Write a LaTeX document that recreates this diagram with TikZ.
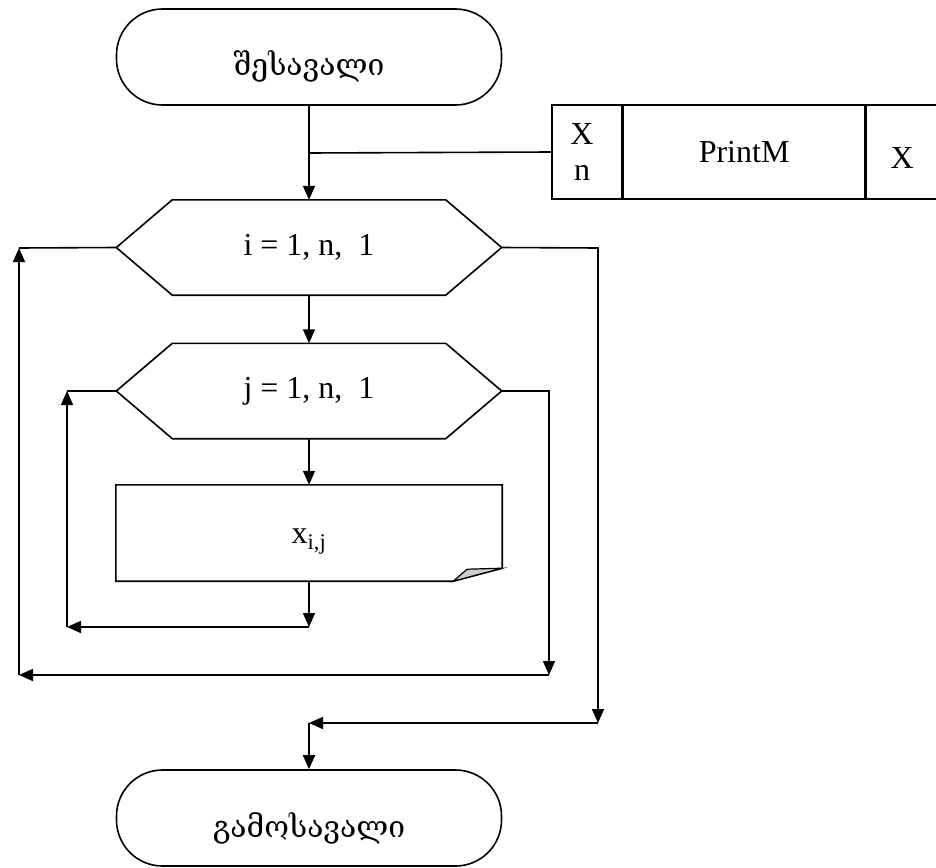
\documentclass[tikz,border=0pt]{standalone}
\usepackage{fontspec}
\setmainfont{Liberation Serif}
\newfontfamily\geofont[Script=Georgian]{DejaVu Serif}
\usetikzlibrary{calc,arrows.meta}

\tikzset{
  flow/.style={line width=1.6pt, line join=miter},
  arr/.style={flow, -{Triangle[length=14pt,width=12pt]}},
  txt/.style={font=\fontsize{32}{36}\selectfont},
  terminal/.style={draw, flow, rounded corners=46pt, minimum width=385pt,
    minimum height=96pt, inner sep=0pt, text depth=0pt,
    font=\fontsize{30}{34}\selectfont\geofont},
  blank/.style={inner sep=0pt, minimum width=385pt, minimum height=95pt},
  cell/.style={draw, flow, inner sep=0pt, minimum height=94pt},
}

\begin{document}
\begin{tikzpicture}[x=1pt, y=-1pt]
\path[use as bounding box] (0,0) rectangle (936,867);

% terminals
\node[terminal, text height=36pt] (start) at (309,57) {შესავალი};
\node[terminal, text height=38pt] (stop) at (309,818) {გამოსავალი};

% loop headers (hexagons)
\node[blank, txt] (hexi) at (309,247.5) {i = 1, n,\ \ 1};
\node[blank, txt] (hexj) at (309,391) {j = 1, n,\ \ 1};
\foreach \h in {hexi, hexj}{
  \draw[flow] (\h.west) -- ($(\h.north west)+(56,0)$) -- ($(\h.north east)+(-56,0)$)
    -- (\h.east) -- ($(\h.south east)+(-56,0)$) -- ($(\h.south west)+(56,0)$) -- cycle;
}

% output document
\node[inner sep=0pt, minimum width=386pt, minimum height=96pt, txt,
  text height=20pt, text depth=0pt] (doc) at (309,533) {x\textsubscript{i,j}};
\draw[flow] (doc.south west) -- (doc.north west) -- (doc.north east)
  -- ($(doc.south east)+(0,-13)$) -- ($(doc.south east)+(-49,0)$) -- cycle;
\filldraw[flow, fill=black!20, line width=1.2pt]
  ($(doc.south east)+(-49,0)$) .. controls ($(doc.south east)+(-42,-6)$) .. ($(doc.south east)+(-35,-12)$)
  .. controls ($(doc.south east)+(-18,-12)$) .. ($(doc.south east)+(0,-13)$) -- cycle;

% subroutine call block
\node[cell, minimum width=70pt, txt, align=center, font=\fontsize{32}{38}\selectfont] (inA) at (587,152)
  {\raisebox{-2pt}{X}\hspace*{10pt}\\n\hspace*{10pt}};
\node[cell, minimum width=241pt, txt, anchor=west] (proc) at (inA.east) {PrintM};
\node[cell, minimum width=72pt, txt, anchor=west, text height=32pt, text depth=0pt]
  (outA) at (proc.east) {X};

% junction points
\coordinate (tap) at (309,153);
\coordinate (jb) at (309,627);
\coordinate (jl) at (67,627);
\coordinate (jt) at (67,391);
\coordinate (je) at (549,391);
\coordinate (jd) at (549,675);
\coordinate (il) at (19,675);
\coordinate (it) at (19,248);
\coordinate (ie) at (598,248);
\coordinate (id) at (598,723);
\coordinate (mj) at (309,723);

% main flow
\draw[arr] (start.south) -- (hexi.north);
\draw[flow] (tap) -- (inA.west);
\draw[arr] (hexi.south) -- (hexj.north);
\draw[arr] (hexj.south) -- (doc.north);

% inner loop return
\draw[arr] (doc.south) -- (jb);
\draw[arr] (jb) -- (jl);
\draw[arr] (jl) -- (jt);
\draw[flow] (jt) -- (hexj.west);

% inner loop exit and outer loop return
\draw[arr] (hexj.east) -- (je) -- (jd);
\draw[arr] (jd) -- (il);
\draw[arr] (il) -- (it);
\draw[flow] (it) -- (hexi.west);

% outer loop exit
\draw[arr] (hexi.east) -- (ie) -- (id);
\draw[arr] (id) -- (mj);
\draw[arr] (mj) -- (stop.north);
\end{tikzpicture}
\end{document}
